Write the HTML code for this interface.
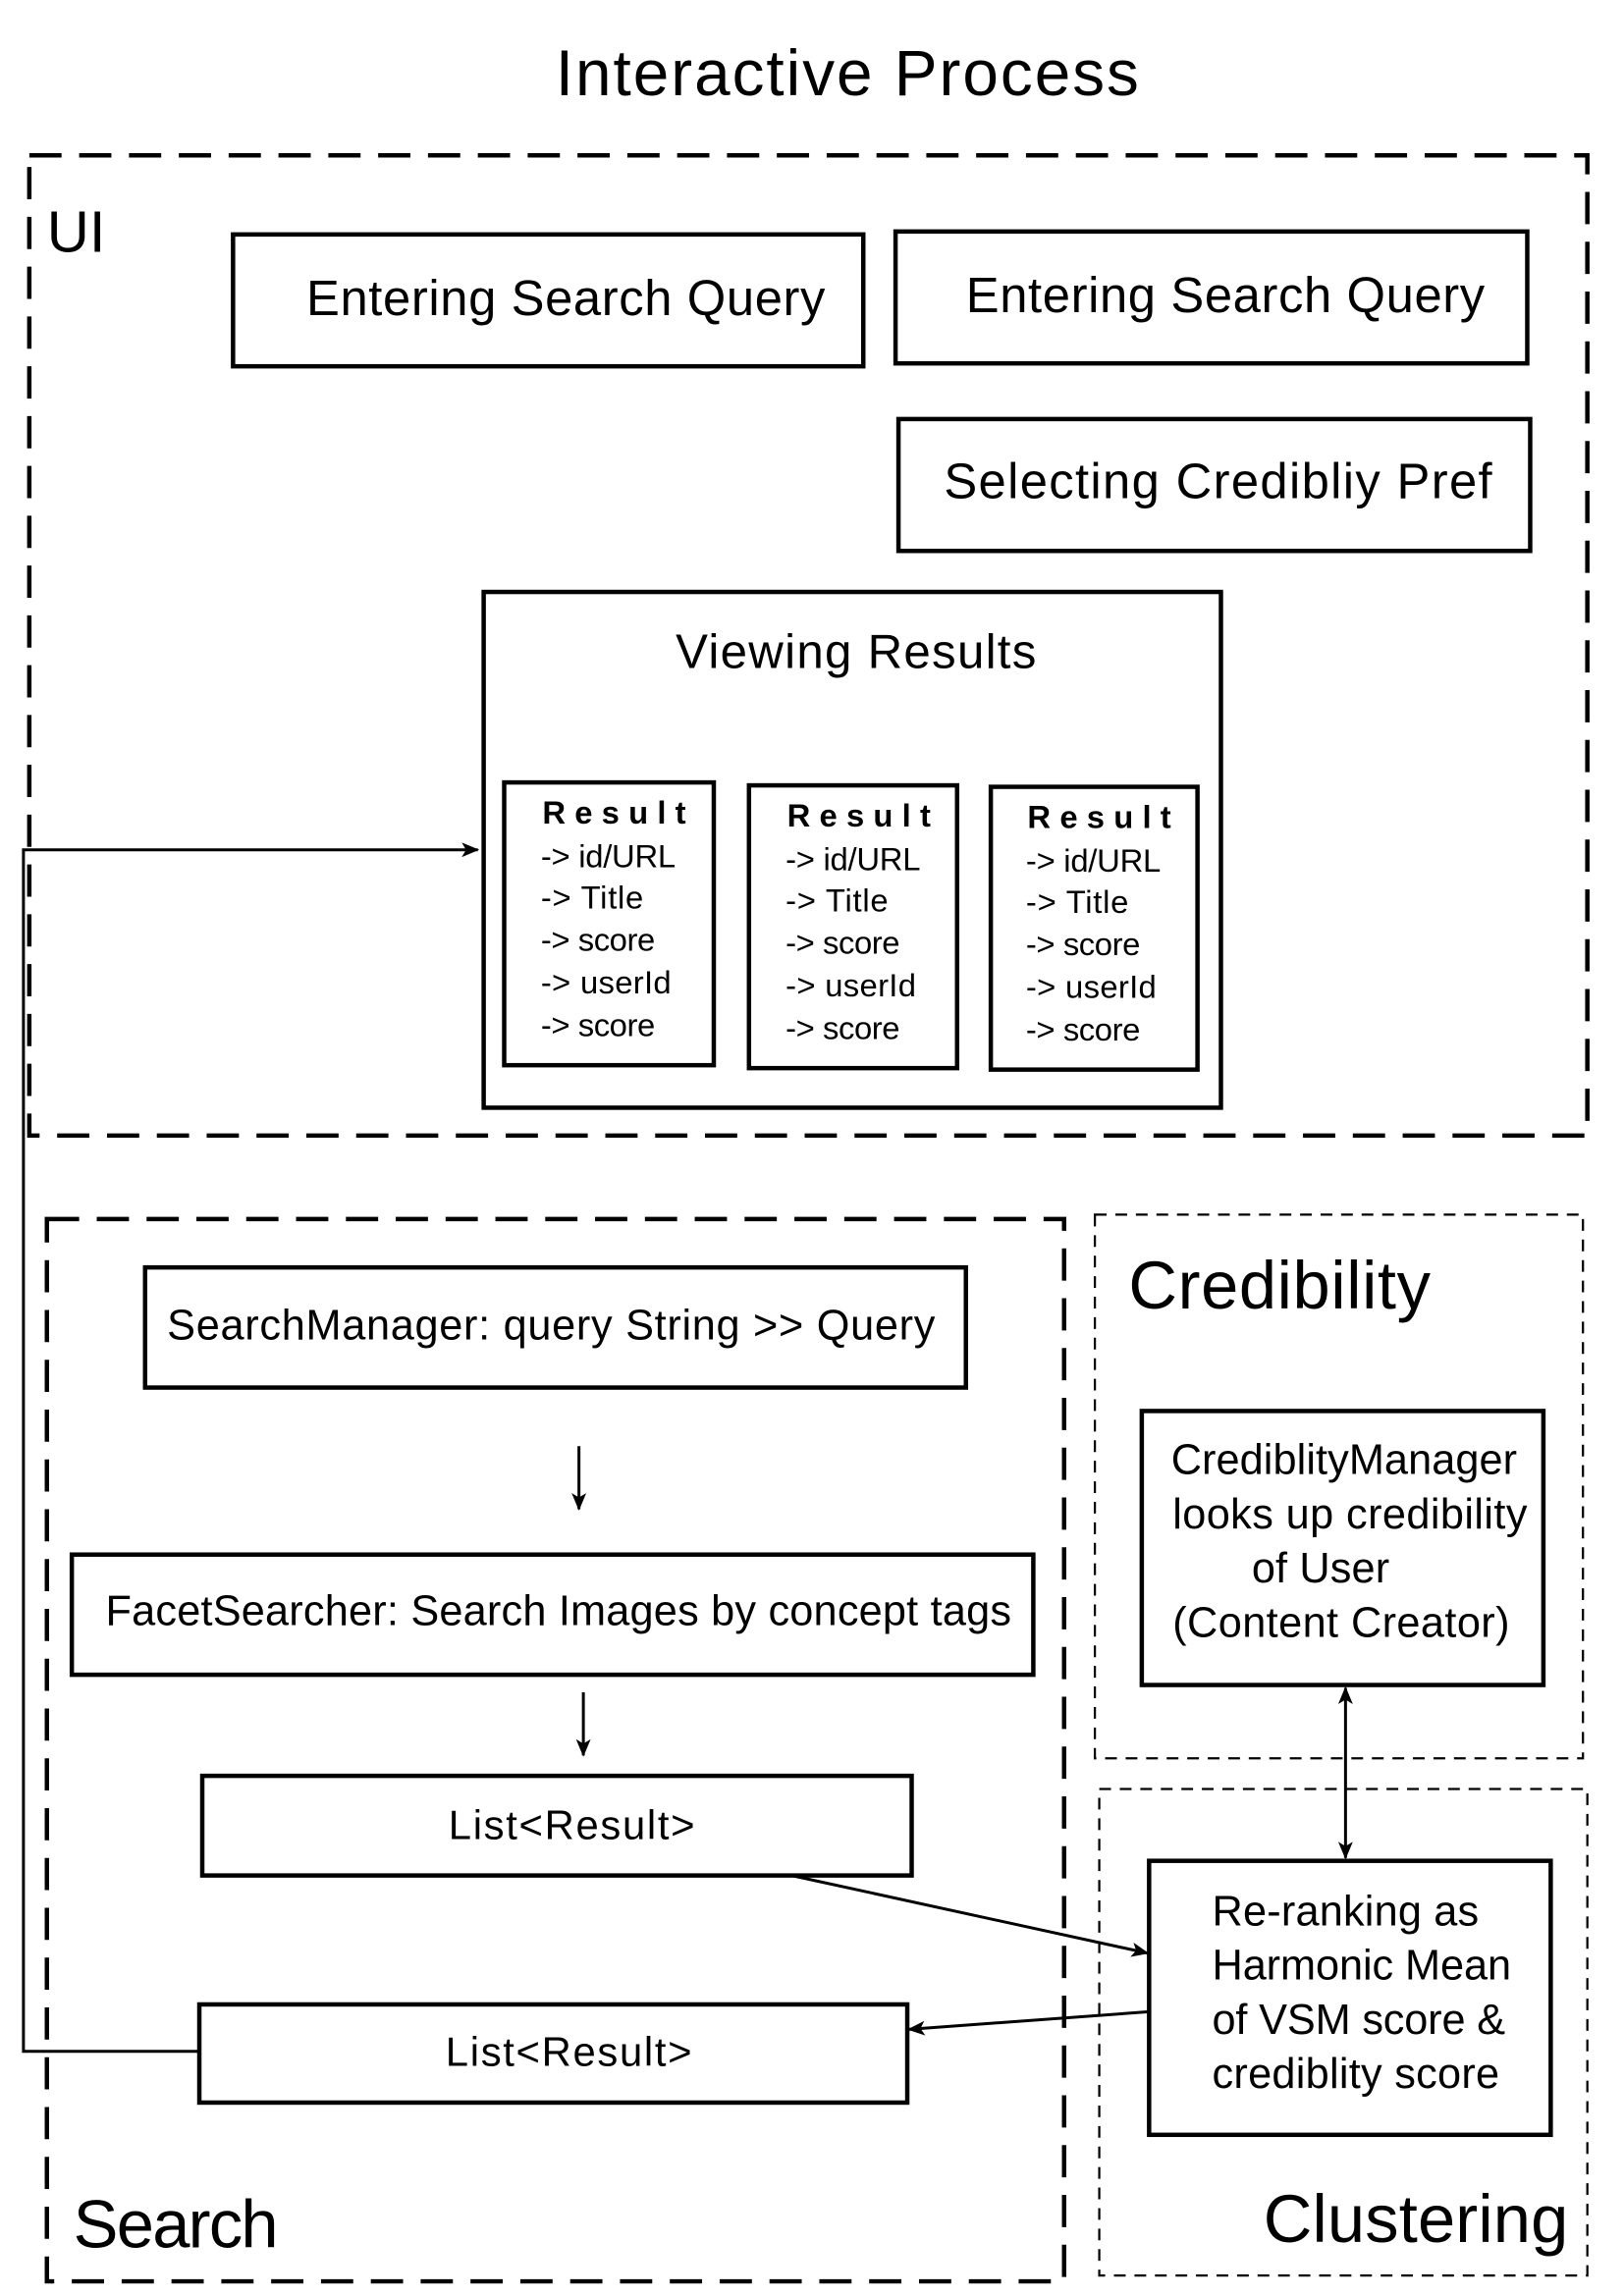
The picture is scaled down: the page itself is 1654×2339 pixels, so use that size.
<!DOCTYPE html>
<html><head><meta charset="utf-8"><style>
html,body{margin:0;padding:0;background:#fff}
svg{display:block}
text{font-family:"Liberation Sans","DejaVu Sans",sans-serif;fill:#000}
</style></head><body>
<svg width="1654" height="2339" viewBox="0 0 1108 1567" preserveAspectRatio="none" xmlns="http://www.w3.org/2000/svg">
<defs>
<marker id="a" markerWidth="12" markerHeight="10" refX="11" refY="5" orient="auto" markerUnits="userSpaceOnUse"><path d="M0,0 L12,5 L0,10 L3,5 Z" fill="#000"/></marker>
<marker id="b" markerWidth="12" markerHeight="10" refX="1" refY="5" orient="auto" markerUnits="userSpaceOnUse"><path d="M12,0 L0,5 L12,10 L9,5 Z" fill="#000"/></marker>
</defs>
<text x="578" y="65" font-size="44" text-anchor="middle" textLength="398">Interactive Process</text>
<rect x="20" y="106" width="1063" height="669" fill="none" stroke="#000" stroke-width="3" stroke-dasharray="22 12"/>
<text x="32" y="172" font-size="40">UI</text>
<g fill="none" stroke="#000" stroke-width="3">
<rect x="159" y="160" width="430" height="90"/>
<rect x="611" y="158" width="431" height="90"/>
<rect x="613" y="286" width="431" height="90"/>
<rect x="330" y="404" width="503" height="352"/>
<rect x="344" y="534" width="143" height="193"/>
<rect x="511" y="536" width="142" height="193"/>
<rect x="676" y="537" width="141" height="193"/>
<rect x="99" y="865" width="560" height="82"/>
<rect x="49" y="1061" width="656" height="82"/>
<rect x="138" y="1212" width="484" height="68"/>
<rect x="136" y="1368" width="483" height="67"/>
<rect x="779" y="963" width="274" height="187"/>
<rect x="784" y="1270" width="274" height="187"/>
</g>
<text x="386" y="215" font-size="34" text-anchor="middle" textLength="354">Entering Search Query</text>
<text x="836" y="213" font-size="34" text-anchor="middle" textLength="354">Entering Search Query</text>
<text x="831" y="340" font-size="34" text-anchor="middle" textLength="374">Selecting Credibliy Pref</text>
<text x="584" y="456" font-size="33" text-anchor="middle" textLength="246">Viewing Results</text>
<g font-size="22">
<text x="370" y="562" font-weight="bold" textLength="98">Result</text>
<text x="369" y="592" textLength="92">-&gt; id/URL</text>
<text x="369" y="620" textLength="70">-&gt; Title</text>
<text x="369" y="649" textLength="78">-&gt; score</text>
<text x="369" y="678" textLength="89">-&gt; userId</text>
<text x="369" y="707" textLength="78">-&gt; score</text>
<text x="537" y="564" font-weight="bold" textLength="98">Result</text>
<text x="536" y="594" textLength="92">-&gt; id/URL</text>
<text x="536" y="622" textLength="70">-&gt; Title</text>
<text x="536" y="651" textLength="78">-&gt; score</text>
<text x="536" y="680" textLength="89">-&gt; userId</text>
<text x="536" y="709" textLength="78">-&gt; score</text>
<text x="701" y="565" font-weight="bold" textLength="98">Result</text>
<text x="700" y="595" textLength="92">-&gt; id/URL</text>
<text x="700" y="623" textLength="70">-&gt; Title</text>
<text x="700" y="652" textLength="78">-&gt; score</text>
<text x="700" y="681" textLength="89">-&gt; userId</text>
<text x="700" y="710" textLength="78">-&gt; score</text>
</g>
<rect x="32" y="832" width="694" height="725" fill="none" stroke="#000" stroke-width="3" stroke-dasharray="22 12"/>
<rect x="747" y="829" width="333" height="371" fill="none" stroke="#000" stroke-width="1.5" stroke-dasharray="8 6"/>
<rect x="750" y="1221" width="333" height="332" fill="none" stroke="#000" stroke-width="1.5" stroke-dasharray="8 6"/>
<text x="50" y="1534" font-size="46" textLength="140">Search</text>
<text x="770" y="893" font-size="46" textLength="206">Credibility</text>
<text x="1070" y="1530" font-size="46" text-anchor="end" textLength="208">Clustering</text>
<text x="376" y="914" font-size="29" text-anchor="middle" textLength="524">SearchManager: query String &gt;&gt; Query</text>
<text x="381" y="1109" font-size="29" text-anchor="middle" textLength="618">FacetSearcher: Search Images by concept tags</text>
<text x="390" y="1255" font-size="28" text-anchor="middle" textLength="168">List&lt;Result&gt;</text>
<text x="388" y="1410" font-size="28" text-anchor="middle" textLength="168">List&lt;Result&gt;</text>
<g font-size="29" text-anchor="middle">
<text x="917" y="1006" textLength="236">CrediblityManager</text>
<text x="921" y="1043" textLength="242">looks up credibility</text>
<text x="901" y="1080" textLength="94">of User</text>
<text x="915" y="1117" textLength="230">(Content Creator)</text>
</g>
<g font-size="29">
<text x="827" y="1314" textLength="182">Re-ranking as</text>
<text x="827" y="1351" textLength="204">Harmonic Mean</text>
<text x="827" y="1388" textLength="200">of VSM score &amp;</text>
<text x="827" y="1425" textLength="196">crediblity score</text>
</g>
<g fill="none" stroke="#000" stroke-width="2">
<polyline points="136,1400 16,1400 16,580 326,580" marker-end="url(#a)"/>
<line x1="395" y1="987" x2="395" y2="1030" marker-end="url(#a)"/>
<line x1="398" y1="1155" x2="398" y2="1198" marker-end="url(#a)"/>
<line x1="918" y1="1152" x2="918" y2="1268" marker-start="url(#b)" marker-end="url(#a)"/>
<line x1="540" y1="1280" x2="783" y2="1333" marker-end="url(#a)"/>
<line x1="784" y1="1373" x2="620" y2="1385" marker-end="url(#a)"/>
</g>
</svg>
</body></html>
